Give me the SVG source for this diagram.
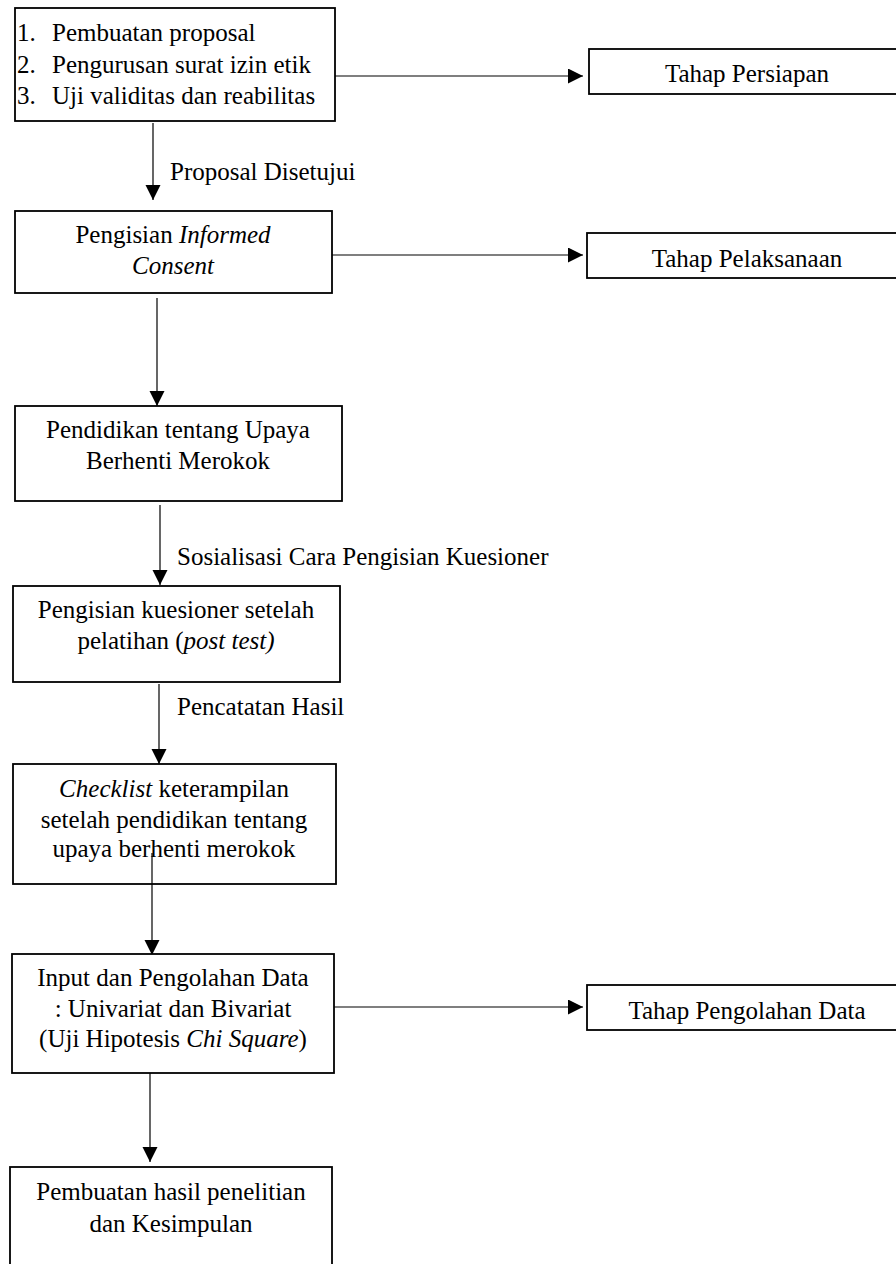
<svg xmlns="http://www.w3.org/2000/svg" width="896" height="1264" viewBox="0 0 896 1264">
<style>
text{font-family:"Liberation Serif","Times New Roman",serif;font-size:25px;fill:#000}
.c{text-anchor:middle}
.i{font-style:italic}
.box{fill:#fff;stroke:#000;stroke-width:1.8}
.ln{fill:none;stroke:#000;stroke-width:1.2}
</style>
<defs>
<marker id="ah" markerUnits="userSpaceOnUse" markerWidth="16" markerHeight="16" refX="15" refY="7.5" orient="auto">
<path d="M0,0 L15,7.5 L0,15 z" fill="#000"/>
</marker>
</defs>
<rect width="896" height="1264" fill="#fff"/>
<g id="connectors">
<line class="ln" x1="335" y1="76" x2="583" y2="76" marker-end="url(#ah)"/>
<line class="ln" x1="153" y1="123" x2="153" y2="200" marker-end="url(#ah)"/>
<line class="ln" x1="332" y1="255" x2="583" y2="255" marker-end="url(#ah)"/>
<line class="ln" x1="157" y1="298" x2="157" y2="406" marker-end="url(#ah)"/>
<line class="ln" x1="160" y1="505" x2="160" y2="585" marker-end="url(#ah)"/>
<line class="ln" x1="159" y1="684" x2="159" y2="764" marker-end="url(#ah)"/>
<line class="ln" x1="152" y1="853" x2="152" y2="955" marker-end="url(#ah)"/>
<line class="ln" x1="334" y1="1007" x2="583" y2="1007" marker-end="url(#ah)"/>
<line class="ln" x1="150" y1="1068" x2="150" y2="1162" marker-end="url(#ah)"/>
<text x="170" y="180">Proposal Disetujui</text>
<text x="177" y="565">Sosialisasi Cara Pengisian Kuesioner</text>
<text x="177" y="715">Pencatatan Hasil</text>
</g>
<g id="persiapan-list">
<rect class="box" x="15" y="8" width="320" height="113"/>
<text x="17" y="41">1.</text><text x="52" y="41">Pembuatan proposal</text>
<text x="17" y="73">2.</text><text x="52" y="73">Pengurusan surat izin etik</text>
<text x="17" y="104">3.</text><text x="52" y="104">Uji validitas dan reabilitas</text>
</g>
<g id="tahap-persiapan">
<rect class="box" x="589" y="49" width="320" height="45"/>
<text class="c" x="747" y="82">Tahap Persiapan</text>
</g>
<g id="informed-consent">
<rect class="box" x="15" y="211" width="317" height="82"/>
<text class="c" x="173" y="243">Pengisian <tspan class="i">Informed</tspan></text>
<text class="c i" x="173" y="274">Consent</text>
</g>
<g id="tahap-pelaksanaan">
<rect class="box" x="587" y="233" width="320" height="45"/>
<text class="c" x="747" y="267">Tahap Pelaksanaan</text>
</g>
<g id="pendidikan">
<rect class="box" x="15" y="406" width="327" height="95"/>
<text class="c" x="178" y="438">Pendidikan tentang Upaya</text>
<text class="c" x="178" y="469">Berhenti Merokok</text>
</g>
<g id="post-test">
<rect class="box" x="13" y="586" width="327" height="96"/>
<text class="c" x="176" y="618">Pengisian kuesioner setelah</text>
<text class="c" x="176" y="649">pelatihan (<tspan class="i">post test)</tspan></text>
</g>
<g id="checklist">
<rect class="box" x="13" y="764" width="323" height="120"/>
<text class="c" x="174" y="797"><tspan class="i">Checklist</tspan> keterampilan</text>
<text class="c" x="174" y="828">setelah pendidikan tentang</text>
<text class="c" x="174" y="857">upaya berhenti merokok</text>
</g>
<g id="pengolahan">
<rect class="box" x="12" y="954" width="322" height="119"/>
<text class="c" x="173" y="986">Input dan Pengolahan Data</text>
<text class="c" x="173" y="1017">: Univariat dan Bivariat</text>
<text class="c" x="173" y="1047">(Uji Hipotesis <tspan class="i">Chi Square</tspan>)</text>
</g>
<g id="tahap-pengolahan">
<rect class="box" x="587" y="985" width="320" height="45"/>
<text class="c" x="747" y="1019">Tahap Pengolahan Data</text>
</g>
<g id="kesimpulan">
<rect class="box" x="10" y="1167" width="322" height="110"/>
<text class="c" x="171" y="1200">Pembuatan hasil penelitian</text>
<text class="c" x="171" y="1232">dan Kesimpulan</text>
</g>
<line class="ln" x1="152" y1="853" x2="152" y2="884"/>
</svg>
